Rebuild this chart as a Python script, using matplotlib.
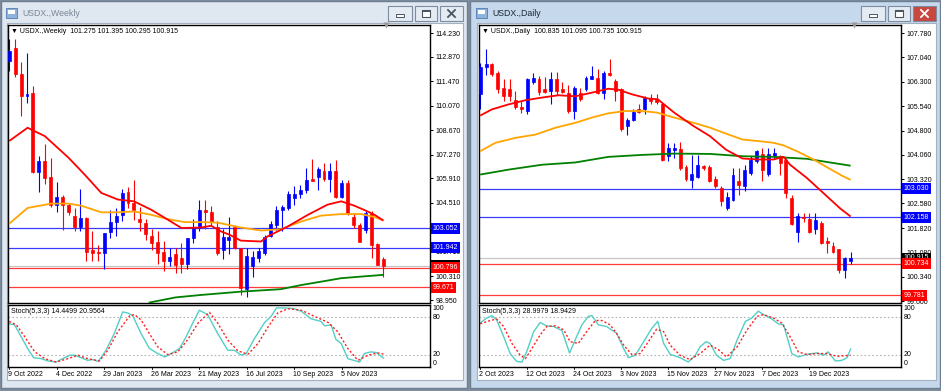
import matplotlib.pyplot as plt
import numpy as np
from matplotlib.patches import Rectangle
from matplotlib.transforms import blended_transform_factory

plt.rcParams['font.family'] = ['Liberation Sans', 'DejaVu Sans']

# ---------------- weekly USDX (9 Oct 2022 .. 24 Dec 2023) ----------------
w_open = [112.62, 113.40, 111.90, 110.60, 110.80, 106.30, 106.90, 106.00, 104.41, 104.85,
          104.41, 103.78, 103.14, 103.67, 101.82, 101.72, 101.65, 102.86, 103.40, 103.84,
          105.15, 104.52, 103.60, 103.37, 102.63, 102.28, 101.70, 101.20, 101.58, 101.36,
          101.00, 102.50, 103.09, 104.12, 104.00, 103.14, 101.82, 102.40, 103.14, 101.94,
          99.59, 100.90, 101.36, 101.65, 102.63, 103.26, 104.12, 104.23, 104.80, 105.00,
          105.22, 105.90, 105.97, 106.36, 105.90, 106.36, 104.87, 105.67, 103.72, 103.26,
          102.97, 103.95, 102.17, 101.275]
w_high = [113.89, 113.90, 112.56, 113.10, 111.20, 107.22, 107.90, 107.10, 105.73, 104.98,
          104.50, 104.20, 105.28, 103.70, 102.90, 102.10, 102.80, 104.10, 104.20, 105.30,
          105.40, 105.84, 104.30, 103.60, 103.00, 102.90, 102.30, 101.95, 101.95, 102.20,
          102.50, 103.60, 104.70, 104.65, 104.31, 103.45, 103.00, 103.70, 103.26, 101.94,
          101.90, 101.73, 101.92, 102.68, 103.45, 104.35, 104.40, 105.17, 105.46, 105.56,
          106.52, 107.03, 106.57, 106.80, 106.80, 106.99, 105.84, 105.84, 103.93, 103.36,
          104.12, 104.02, 102.21, 101.395]
w_low = [112.05, 111.70, 109.50, 110.20, 106.20, 105.15, 105.60, 104.30, 104.00, 102.97,
         103.80, 102.90, 102.90, 101.20, 101.18, 101.20, 100.70, 102.50, 102.60, 103.50,
         104.20, 103.55, 102.90, 102.40, 101.80, 101.00, 100.60, 100.90, 100.50, 100.50,
         100.70, 102.20, 102.90, 103.00, 103.26, 101.54, 101.30, 101.60, 101.86, 99.24,
         99.10, 100.29, 101.15, 101.54, 102.55, 102.97, 102.90, 104.12, 104.41, 104.80,
         105.08, 105.75, 105.23, 105.75, 105.12, 104.79, 104.79, 103.83, 103.07, 102.30,
         102.78, 101.35, 100.96, 100.295]
w_close = [113.20, 111.90, 110.60, 110.75, 106.25, 106.90, 105.96, 104.41, 104.87, 104.41,
           104.00, 103.14, 103.67, 101.71, 101.65, 101.65, 102.80, 103.40, 103.78, 105.10,
           104.50, 104.12, 103.43, 102.74, 102.23, 101.65, 101.18, 101.40, 100.96, 100.99,
           102.50, 103.05, 104.12, 103.97, 103.43, 101.65, 102.57, 102.57, 101.94, 99.64,
           101.48, 101.42, 101.76, 102.57, 103.30, 104.12, 104.30, 105.04, 105.04, 105.27,
           105.84, 105.78, 106.47, 105.90, 106.36, 104.87, 105.67, 103.95, 103.26, 102.28,
           103.95, 102.12, 100.96, 100.915]

w_red_x = [0, 3.1, 6, 10, 12.7, 15.5, 18.3, 21, 23.9, 26.7, 29, 32.3, 34, 35.7, 37, 39,
           42.4, 43.5, 46.9, 50.3, 53.6, 55.9, 58.1, 59.8, 61.5, 63]
w_red_y = [108.05, 108.81, 108.33, 107.09, 106.13, 105.08, 104.70, 104.60, 104.12, 103.55,
           103.07, 103.10, 103.20, 102.87, 102.70, 102.35, 102.30, 102.59, 103.16, 103.83,
           104.41, 104.60, 104.35, 104.10, 103.83, 103.50]
w_org_x = [0, 3.1, 7.1, 10, 12.1, 15.5, 18.3, 21, 23.9, 26.7, 29.5, 32.3, 35.1, 39, 42.4,
           45.7, 49.2, 52.5, 55.9, 59.2, 61.5, 63]
w_org_y = [103.32, 104.22, 104.47, 104.47, 104.35, 103.97, 103.97, 104.02, 103.83, 103.58,
           103.41, 103.41, 103.38, 103.10, 102.93, 103.00, 103.45, 103.78, 103.87, 103.87,
           103.70, 103.50]
w_grn_x = [23.5, 28, 32.3, 39, 45.7, 49.2, 52.5, 55.9, 59.2, 63]
w_grn_y = [98.80, 99.10, 99.24, 99.43, 99.57, 99.81, 100.00, 100.20, 100.29, 100.39]

w_k_x = [0, 0.9, 2, 3.1, 4.1, 5.4, 6.5, 7.9, 9, 10.2, 11.1, 12.1, 13.2, 14.1, 15, 16.3, 17.7,
         19.1, 20, 20.8, 22.2, 23.6, 25, 26.2, 27.3, 28.7, 29.8, 30.9, 32, 33.4, 35.1, 36.8,
         37.9, 39.1, 39.9, 41.3, 43, 44.1, 45, 46.4, 48, 49.2, 50.8, 52.5, 53.1, 54.2, 55,
         55.9, 57, 59, 59.8, 60.9, 61.8, 63]
w_k_y = [69.7, 68, 49, 30, 15, 13.5, 9.7, 8, 13.5, 19, 19, 15, 10.7, 12, 9, 27, 54, 88.8, 87,
         82.7, 54, 30, 21.7, 16.2, 21.7, 30, 49, 70.8, 91.5, 84.5, 54, 27, 27, 19, 21.7, 46,
         71.8, 81.7, 95.3, 95.3, 94, 89.8, 77.8, 73.5, 66.4, 68, 44.6, 38, 13.5, 8, 21.7, 24.4,
         23.3, 14.4]
w_d_x = [0, 1.2, 2.6, 4.3, 6, 7.9, 9.9, 11.6, 13.2, 15.2, 16.6, 18.3, 20.3, 21.1, 22.2, 23.6,
         25, 26.7, 28.4, 30, 31.8, 33.7, 35.1, 36.8, 38.5, 40.2, 41.9, 43.6, 45.2, 46.9, 49.2,
         51.4, 53.7, 55.3, 57, 58.7, 60.4, 62.1, 63]
w_d_y = [73.5, 68, 49, 24.4, 13.5, 8, 13.5, 19, 13.5, 9.7, 27, 57, 82.7, 84.5, 76, 54, 32.6,
         20, 24.4, 43.5, 70.8, 88.2, 70.8, 43.5, 26, 20.6, 38, 65, 87, 94, 91.5, 81.7, 71.8,
         57, 30, 10.7, 19, 22.7, 21.0]

w_dates = ['9 Oct 2022', '4 Dec 2022', '29 Jan 2023', '26 Mar 2023', '21 May 2023',
           '16 Jul 2023', '10 Sep 2023', '5 Nov 2023']
w_ticks = [114.230, 112.870, 111.470, 110.070, 108.670, 107.270, 105.910, 104.510,
           101.710, 100.310, 98.950]
w_blue = [103.052, 101.942]
w_red = [100.796, 99.671]

# ---------------- daily USDX (2 Oct 2023 .. Dec 2023) ----------------
d_open = [105.91, 106.73, 106.83, 106.55, 106.11, 106.06, 105.73, 105.53, 105.40, 106.30,
          106.39, 106.06, 106.01, 106.39, 106.06, 105.94, 105.40, 105.96, 106.07, 106.39,
          106.42, 105.96, 106.55, 106.32, 106.06, 104.94, 105.14, 105.45, 105.45, 105.81,
          105.76, 105.60, 104.04, 104.20, 104.24, 103.69, 103.29, 103.40, 103.73, 103.69,
          103.32, 103.05, 102.43, 102.67, 103.25, 103.12, 103.51, 103.86, 104.10, 103.49,
          104.04, 104.02, 103.91, 102.74, 101.72, 102.18, 102.10, 101.79, 101.97, 101.44,
          101.28, 101.18, 100.54, 100.835]
d_high = [106.88, 107.29, 106.88, 106.62, 106.37, 106.37, 106.01, 105.70, 106.42, 106.57,
          106.48, 106.45, 106.60, 106.60, 106.30, 106.20, 106.17, 106.11, 106.47, 106.78,
          106.68, 106.62, 107.00, 106.37, 106.10, 105.20, 105.45, 105.60, 105.86, 105.91,
          105.92, 105.63, 104.43, 104.43, 104.45, 103.76, 104.07, 104.07, 103.76, 103.76,
          103.41, 103.10, 102.92, 103.66, 103.66, 103.76, 104.04, 104.20, 104.28, 104.28,
          104.28, 104.07, 103.97, 102.85, 102.28, 102.28, 102.28, 102.28, 102.03, 101.55,
          101.41, 101.20, 100.95, 101.095]
d_low = [105.45, 106.50, 106.47, 105.96, 105.70, 105.70, 105.45, 105.35, 105.30, 106.22,
         105.90, 105.95, 105.60, 105.90, 105.95, 105.35, 105.17, 105.70, 106.01, 106.37,
         105.91, 105.76, 106.47, 105.70, 104.78, 104.68, 105.09, 105.35, 105.30, 105.60,
         105.62, 103.87, 103.87, 103.97, 103.61, 103.25, 103.05, 103.36, 103.61, 103.22,
         103.05, 102.49, 102.37, 102.64, 102.85, 102.95, 103.46, 103.82, 103.25, 103.41,
         103.92, 103.46, 102.74, 101.92, 101.41, 102.02, 101.67, 101.65, 101.34, 101.06,
         101.06, 100.46, 100.29, 100.735]
d_close = [106.73, 106.83, 106.52, 106.07, 105.86, 105.86, 105.53, 105.45, 106.37, 106.42,
           105.98, 105.98, 106.39, 106.01, 105.98, 105.40, 106.11, 105.76, 106.42, 106.47,
           105.94, 106.57, 106.49, 106.01, 104.86, 105.14, 105.37, 105.37, 105.81, 105.71,
           105.68, 103.91, 104.28, 104.28, 103.66, 103.32, 103.48, 103.76, 103.66, 103.25,
           103.10, 102.64, 102.79, 103.45, 103.15, 103.59, 103.91, 104.17, 103.61, 104.10,
           104.11, 103.81, 102.89, 101.95, 102.20, 102.13, 101.72, 102.08, 101.36, 101.36,
           101.10, 100.56, 100.90, 100.915]

d_red_x = [0, 2, 4.8, 7.7, 10.5, 13.3, 16.2, 19, 21.8, 23.5, 25.8, 28.6, 30.2, 33, 36.3,
           39.1, 41.8, 44.6, 47.4, 49.9, 51.6, 52.7, 55.6, 58.4, 61.2, 63]
d_red_y = [105.26, 105.45, 105.60, 105.73, 105.81, 105.88, 105.85, 105.96, 106.08, 106.05,
           105.91, 105.78, 105.76, 105.35, 104.94, 104.63, 104.22, 103.95, 103.92, 103.92,
           104.00, 103.76, 103.35, 102.89, 102.43, 102.18]
d_org_x = [0, 2.6, 6, 9.4, 12.8, 16.2, 19, 21.8, 24.7, 27.5, 30.1, 33, 36.3, 39.1, 41.8,
           44.6, 47.4, 49.9, 51.6, 53.9, 56.7, 59.5, 61.8, 63]
d_org_y = [104.17, 104.43, 104.58, 104.68, 104.89, 105.04, 105.20, 105.33, 105.40, 105.40,
           105.35, 105.20, 105.04, 104.89, 104.71, 104.53, 104.48, 104.43, 104.35, 104.17,
           103.92, 103.63, 103.40, 103.30]
d_grn_x = [0, 4.8, 10.5, 16.2, 21.8, 27.5, 33, 39.1, 44.6, 49.9, 55.6, 63]
d_grn_y = [103.46, 103.61, 103.76, 103.83, 104.00, 104.06, 104.10, 104.09, 104.02, 104.00,
           103.94, 103.73]

d_k_x = [0, 1.1, 2, 2.8, 4, 5.1, 6.2, 7.1, 7.9, 9.1, 10.2, 11.3, 12.5, 13.9, 15.2, 16.4, 17.3,
         18.4, 19, 20.1, 21.5, 23.2, 24.4, 25.2, 26.4, 27.8, 29.2, 30.2, 31.2, 32.3, 34, 35.4,
         36.6, 37.4, 38.4, 39.1, 40.2, 41.4, 42.5, 43.7, 45.1, 46.2, 47.3, 48.2, 49.6, 50.7,
         51.6, 53, 54.1, 55.6, 57.3, 58.4, 59.2, 60.4, 61.5, 62.4, 63]
d_k_y = [70.8, 79, 82.8, 76, 49, 21.7, 9.1, 8, 24.4, 57, 71.8, 66.4, 65.3, 58.8, 22.7, 49, 68,
         81.7, 82.8, 68, 65.3, 54.4, 29.8, 15, 19, 40.8, 62.6, 73.5, 38, 20.6, 15, 8, 19, 32.6,
         40.8, 38, 19, 10.7, 13.5, 43.5, 73.5, 79, 90, 84.5, 77.4, 69.7, 68, 21.7, 16.2, 20.6,
         22.7, 19, 24.4, 9.7, 10.7, 15, 29.0]
d_d_x = [0, 1.7, 2.8, 4, 5.4, 6.8, 7.7, 8.8, 10.2, 11.3, 12.8, 14.2, 15.3, 16.7, 18.1, 19.6,
         20.7, 22.1, 23.2, 24.4, 25.8, 27.2, 28.6, 30, 31.2, 32.3, 34, 35.7, 37.4, 39.1, 40.5,
         41.9, 43.7, 45.4, 47.1, 48.2, 49.9, 51.3, 52.7, 54.1, 55.6, 57.3, 58.9, 60.7, 63]
d_d_y = [69.7, 75, 77.3, 65.3, 38, 19, 13.5, 29.8, 51.7, 65.3, 66.4, 60, 40.8, 38, 57, 75, 75,
         68, 54.4, 35.3, 20, 21.7, 40.8, 60.9, 57, 35.3, 19, 11.8, 21.7, 35.3, 28.2, 16.2,
         32.6, 60, 81.7, 84.5, 79, 70.8, 49, 24.4, 20, 21.7, 21.7, 17.3, 18.9]

d_dates = ['2 Oct 2023', '12 Oct 2023', '24 Oct 2023', '3 Nov 2023', '15 Nov 2023',
           '27 Nov 2023', '7 Dec 2023', '19 Dec 2023']
d_ticks = [107.780, 107.040, 106.300, 105.540, 104.800, 104.060, 103.320, 102.580,
           101.820, 101.080, 100.340, 99.600]
d_blue = [103.030, 102.158]
d_red = [100.734, 99.781]

last_price = 100.915

W, H = 941, 391
fig = plt.figure(figsize=(W / 100, H / 100), dpi=100)
fig.patch.set_facecolor('#7f8d9d')


def px_axes(x0, y0, x1, y1):
    return fig.add_axes([x0 / W, 1 - y1 / H, (x1 - x0) / W, (y1 - y0) / H])


bg = px_axes(0, 0, W, H)
bg.set_xlim(0, W)
bg.set_ylim(H, 0)
bg.axis('off')


def window(x0, x1, title, active):
    frame = '#c6d8ec' if active else '#dfe7f1'
    bg.add_patch(Rectangle((x0 + 0.5, 0.5), x1 - x0 - 1, 387, fc=frame, ec='#6e7e91', lw=1))
    bg.add_patch(Rectangle((x0 + 7, 23), x1 - x0 - 12, 357, fc='white', ec='#a3b0bf', lw=0.8))
    bg.add_patch(Rectangle((x0 + 6, 8), 11, 10, fc='#8fb2dc', ec='#4f7bb3', lw=0.6))
    bg.add_patch(Rectangle((x0 + 8, 10), 7, 4, fc='white', ec='none'))
    bg.text(x0 + 22, 14, title, fontsize=6.3, va='center',
            color='#1b2533' if active else '#7b8796')
    btn = [(x1 - 80, x1 - 56), (x1 - 53, x1 - 31), (x1 - 28, x1 - 5)]
    for k, (b0, b1) in enumerate(btn):
        fc = '#c8473e' if (active and k == 2) else '#e4ebf3'
        bg.add_patch(Rectangle((b0, 6), b1 - b0, 15, fc=fc, ec='#7d8ca0', lw=0.8))
        cx = (b0 + b1) / 2
        gc = 'white' if (active and k == 2) else '#4a5563'
        if k == 0:
            bg.add_patch(Rectangle((cx - 4, 14), 8, 2.5, fc='white', ec=gc, lw=0.7))
        elif k == 1:
            bg.add_patch(Rectangle((cx - 4, 9.5), 8, 7, fc='white', ec=gc, lw=0.8))
            bg.add_patch(Rectangle((cx - 4, 9.5), 8, 2, fc=gc, ec='none'))
        else:
            bg.plot([cx - 3.5, cx + 3.5], [10, 17], color=gc, lw=1.3)
            bg.plot([cx - 3.5, cx + 3.5], [17, 10], color=gc, lw=1.3)


window(0, 468, 'USDX.,Weekly', False)
window(470, 941, 'USDX.,Daily', True)


def chart(x0, x1, step, o, h, l, c, ticks, ylim, ma, blue, red, header,
          k_x, k_y, d_x, d_y, stoch_txt, dates):
    xlim = (-0.2, -0.2 + (x1 - x0) / step)
    ax = px_axes(x0, 25, x1, 303)
    ax.set_xlim(*xlim)
    ax.set_ylim(*ylim)
    ax.set_facecolor('white')
    for s in ax.spines.values():
        s.set_color('black')
        s.set_linewidth(1)
    ax.set_xticks([])
    ax.yaxis.tick_right()
    ax.set_yticks(ticks)
    ax.set_yticklabels(['%.3f' % t for t in ticks])
    ax.tick_params(axis='y', length=2.5, width=0.7, pad=1.5, labelsize=5)

    # levels
    ax.axhline(last_price, color='#c6c6c6', lw=0.9, zorder=1)
    for v in blue:
        ax.axhline(v, color='#3a3aff', lw=0.9, zorder=1)
    for v in red:
        ax.axhline(v, color='#ff3a3a', lw=0.9, zorder=1)

    # candles
    o, h, l, c = map(np.asarray, (o, h, l, c))
    x = np.arange(len(o))
    col = np.where(c >= o, '#0000ff', '#ff0000')
    ax.vlines(x, l, h, colors=col, lw=0.8, zorder=2)
    ax.bar(x, np.abs(c - o), bottom=np.minimum(o, c), width=0.5, color=col,
           edgecolor=col, linewidth=0.5, zorder=3)

    # moving averages
    for (mx, my, mc) in ma:
        ax.plot(mx, my, color=mc, lw=1.3, zorder=4, solid_capstyle='butt')

    # price boxes
    tr = blended_transform_factory(ax.transAxes, ax.transData)
    boxes = [(last_price, 'black')] + [(v, '#0000ff') for v in blue] + [(v, '#ff0000') for v in red]
    for v, fc in boxes:
        ax.text(1.006, v, '%.3f' % v, transform=tr, fontsize=5, color='white',
                ha='left', va='center', clip_on=False, zorder=10,
                bbox=dict(boxstyle='square,pad=0.28', fc=fc, ec='none'))

    ax.text(0.008, 0.975, header, transform=ax.transAxes, fontsize=5, va='center',
            ha='left', color='black')
    ax.plot([63.5], [1], marker='v', ms=4, color='#9a9a9a', mec='none',
            transform=blended_transform_factory(ax.transData, ax.transAxes),
            clip_on=False, zorder=6)

    # stochastic
    st = px_axes(x0, 305, x1, 367)
    st.set_xlim(*xlim)
    st.set_ylim(0, 100)
    for s in st.spines.values():
        s.set_color('black')
        s.set_linewidth(1)
    st.set_xticks([])
    st.set_yticks([])
    for lv in (20, 80):
        st.axhline(lv, color='#b4b4b4', lw=0.8, ls=(0, (1.5, 2)))
    st.plot(k_x, k_y, color='#52cfc6', lw=1.0)
    st.plot(d_x, d_y, color='#ff2020', lw=1.0, ls=(0, (1.5, 1.5)))
    st.text(0.008, 0.9, stoch_txt, transform=st.transAxes, fontsize=5, va='center')
    for lv, lab, va in ((100, '100', 'top'), (80, '80', 'center'), (20, '20', 'center'), (0, '0', 'bottom')):
        st.text(1.006, lv / 100, lab, transform=st.transAxes, fontsize=5, va=va, ha='left',
                clip_on=False)
    trd = blended_transform_factory(st.transData, st.transAxes)
    for k, lab in enumerate(dates):
        st.text(k * 8 - 0.15, -0.06, lab, transform=trd, fontsize=5, ha='left', va='top',
                clip_on=False)
        st.plot([k * 8, k * 8], [0, -0.04], transform=trd, color='black', lw=0.6, clip_on=False)


chart(8, 430, 5.94, w_open, w_high, w_low, w_close, w_ticks, (98.78, 114.69),
      [(w_grn_x, w_grn_y, '#008000'), (w_org_x, w_org_y, '#ffa500'), (w_red_x, w_red_y, '#ff0000')],
      w_blue, w_red, '\u25bc USDX.,Weekly  101.275 101.395 100.295 100.915',
      w_k_x, w_k_y, w_d_x, w_d_y, 'Stoch(5,3,3) 14.4499 20.9564', w_dates)

chart(479, 901, 5.88, d_open, d_high, d_low, d_close, d_ticks, (99.54, 108.025),
      [(d_grn_x, d_grn_y, '#008000'), (d_org_x, d_org_y, '#ffa500'), (d_red_x, d_red_y, '#ff0000')],
      d_blue, d_red, '\u25bc USDX.,Daily  100.835 101.095 100.735 100.915',
      d_k_x, d_k_y, d_d_x, d_d_y, 'Stoch(5,3,3) 28.9979 18.9429', d_dates)

fig.savefig('out.png', dpi=100, facecolor=fig.get_facecolor())
